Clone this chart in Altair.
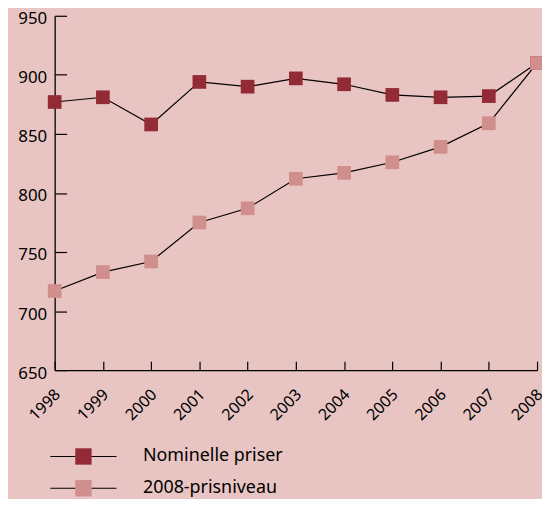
import altair as alt
import pandas as pd

years = [1998, 1999, 2000, 2001, 2002, 2003, 2004, 2005, 2006, 2007, 2008]
nominelle = [877, 881, 858, 894, 890, 897, 892, 883, 881, 882, 910]
prisniveau_2008 = [717, 733, 742, 775, 787, 812, 817, 826, 839, 859, 910]
series_names = ["Nominelle priser", "2008-prisniveau"]
series_colors = ["#922B36", "#D08E8C"]
y_ticks = [650, 700, 750, 800, 850, 900, 950]

rows = []
for name, vals in zip(series_names, [nominelle, prisniveau_2008]):
    for yr, v in zip(years, vals):
        rows.append({"year": yr, "value": v, "series": name, "series_l": name})
df = pd.DataFrame(rows)

FONT = "Noto Sans"
BG = "#E8C5C2"

x_scale = alt.Scale(domain=[1998, 2008], nice=False, zero=False)
y_scale = alt.Scale(domain=[650, 950], nice=False, zero=False)

LEG_X = 20
LEG_Y = 435
LEG_SIZE = 272
LEG_ROWPAD = 14

base = alt.Chart(df)

lines = base.mark_line(color="black", strokeWidth=1.2).encode(
    x=alt.X("year:Q", scale=x_scale, axis=alt.Axis(
        orient="bottom", values=years, format="d", title=None, grid=False,
        ticks=False, domain=True, domainColor="black", domainWidth=1.3,
        labelAngle=-45, labelAlign="right", labelBaseline="top",
        labelPadding=16, labelOffset=-3, labelFlush=False, labelOverlap=False,
        labelBound=False,
        labelFont=FONT, labelFontSize=16, labelColor="black")),
    y=alt.Y("value:Q", scale=y_scale, axis=alt.Axis(
        orient="left", values=y_ticks, format="d", title=None, grid=False,
        ticks=False, domain=True, domainColor="black", domainWidth=1.3,
        labelPadding=8, labelOffset=3, labelFlush=False, labelOverlap=False,
        labelFont=FONT, labelFontSize=17, labelColor="black")),
    stroke=alt.Stroke("series_l:N", sort=series_names,
        scale=alt.Scale(range=["black", "black"]),
        legend=alt.Legend(orient="none", legendX=LEG_X, legendY=LEG_Y, title=None,
            direction="vertical", padding=0,
            symbolType="M-4.04,0H-0.95M0.95,0H4.04", symbolSize=LEG_SIZE,
            symbolStrokeWidth=1.2, labelOpacity=0,
            labelFont=FONT, labelFontSize=18, labelOffset=51,
            rowPadding=LEG_ROWPAD)),
    detail="series:N",
)

points = base.mark_point(shape="square", filled=True, size=190, opacity=1,
                         strokeWidth=0).encode(
    x=alt.X("year:Q", scale=x_scale, axis=alt.Axis(
        orient="bottom", values=years, title=None, grid=False,
        ticks=True, tickSize=9, tickColor="black", tickWidth=1.2,
        domain=False, labels=False, offset=-9)),
    y=alt.Y("value:Q", scale=y_scale, axis=alt.Axis(
        orient="left", values=y_ticks, title=None, grid=False,
        ticks=True, tickSize=12, tickColor="black", tickWidth=1.2,
        domain=False, labels=False, offset=-12)),
    fill=alt.Fill("series:N", sort=series_names,
        scale=alt.Scale(domain=series_names, range=series_colors),
        legend=alt.Legend(orient="none", legendX=LEG_X, legendY=LEG_Y, title=None,
            direction="vertical", padding=0,
            symbolType="square", symbolSize=LEG_SIZE, symbolStrokeWidth=0,
            symbolOpacity=1,
            labelFont=FONT, labelFontSize=18, labelColor="black",
            labelOffset=51, rowPadding=LEG_ROWPAD)),
)

chart = alt.layer(lines, points).resolve_axis(
    x="independent", y="independent"
).properties(
    width=486, height=357,
    autosize=alt.AutoSizeParams(type="none"),
    padding={"left": 47, "top": 6, "right": 5, "bottom": 128},
    background=BG,
).configure_view(stroke=None)

chart.save("out.html", embed_options={"renderer": "svg", "actions": False})
